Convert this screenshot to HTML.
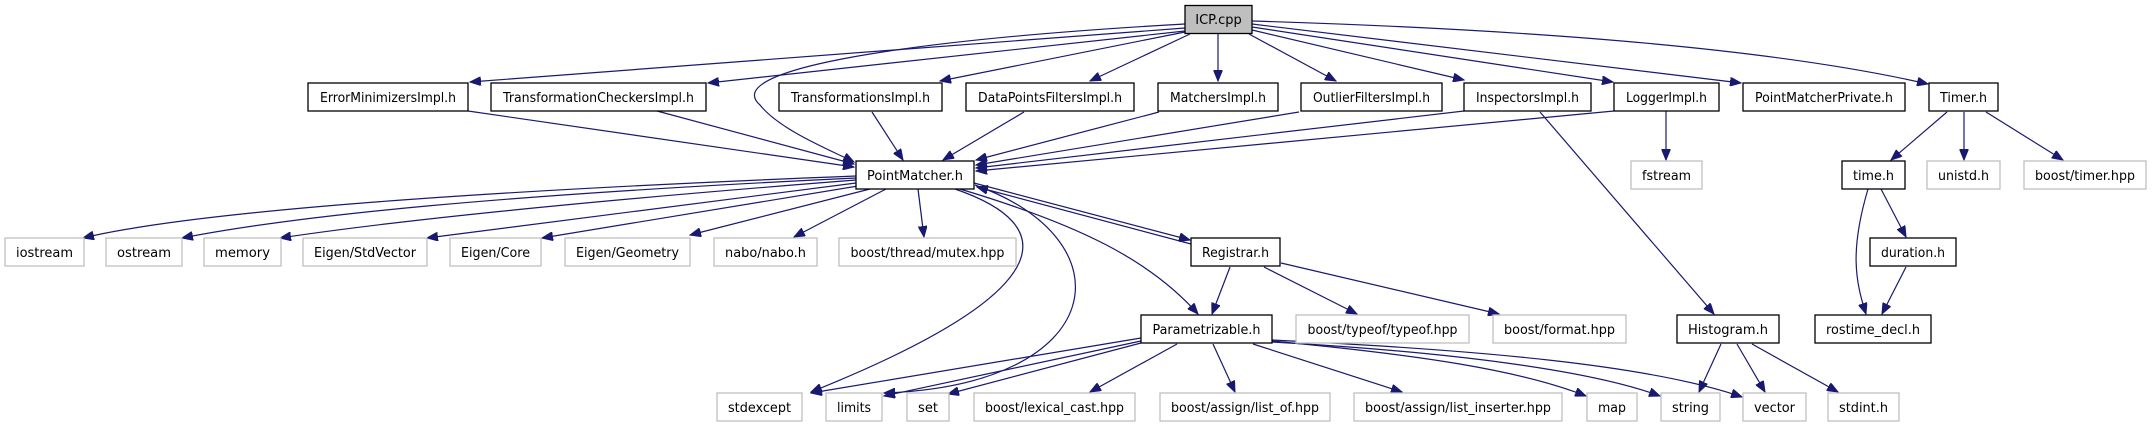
<!DOCTYPE html>
<html><head><meta charset="utf-8"><style>
html,body{margin:0;padding:0;background:#fff;}
svg{display:block;}
text{font-family:"DejaVu Sans","Liberation Sans",sans-serif;font-size:13px;fill:#000;}
.b rect{fill:#fff;stroke:#000;stroke-width:1.3;}
.g rect{fill:#fff;stroke:#bfbfbf;stroke-width:1.3;}
.e path{fill:none;stroke:#191970;stroke-width:1.2;marker-end:url(#a);}
</style></head><body>
<svg width="2152" height="427" viewBox="0 0 2152 427" xmlns="http://www.w3.org/2000/svg">
<defs><marker id="a" markerUnits="userSpaceOnUse" markerWidth="12" markerHeight="9" refX="11" refY="4.5" orient="auto"><path d="M0,0 L11,4.5 L0,9 z" fill="#191970" stroke="#191970"/></marker></defs>
<g class="e">
<path d="M1185,28 L470,82"/>
<path d="M1185,31 L708,83"/>
<path d="M1185,24 C900,40 720,70 760,105 C780,130 830,150 854,162"/>
<path d="M1185,32 L940,81"/>
<path d="M1190,34 L1090,81"/>
<path d="M1218,34 L1218,81"/>
<path d="M1249,34 L1336,81"/>
<path d="M1252,30 L1464,80"/>
<path d="M1252,27 L1613,82"/>
<path d="M1252,24 L1741,83"/>
<path d="M1252,21 C1550,30 1780,50 1928,84"/>
<path d="M468,111 L854,167"/>
<path d="M657,111 L854,164"/>
<path d="M872,112 L903,160"/>
<path d="M1024,112 L943,160"/>
<path d="M1159,112 L976,160"/>
<path d="M1299,112 L976,165"/>
<path d="M1464,111 L976,168"/>
<path d="M1614,111 L976,171"/>
<path d="M1666,111 L1666,160"/>
<path d="M1540,112 L1714,314"/>
<path d="M1947,112 L1891,160"/>
<path d="M1964,112 L1964,160"/>
<path d="M1986,112 L2063,160"/>
<path d="M1881,189 L1906,237"/>
<path d="M1868,189 C1850,250 1855,280 1866,314"/>
<path d="M1906,267 L1882,314"/>
<path d="M1721,344 L1699,392"/>
<path d="M1737,344 L1765,392"/>
<path d="M1752,344 L1838,392"/>
<path d="M856,176 C500,190 200,210 83,238"/>
<path d="M856,178 C500,195 300,215 182,238"/>
<path d="M856,180 C600,200 400,220 280,238"/>
<path d="M856,183 L427,238"/>
<path d="M858,186 L542,238"/>
<path d="M870,189 L690,235"/>
<path d="M886,189 L794,237"/>
<path d="M918,189 L924,237"/>
<path d="M974,183 L1190,240"/>
<path d="M1191,244 L977,187"/>
<path d="M960,189 C1080,225 1150,260 1198,314"/>
<path d="M955,189 C1060,225 1065,290 811,392"/>
<path d="M975,185 C1130,240 1110,385 884,393"/>
<path d="M1230,267 L1212,314"/>
<path d="M1264,267 L1357,314"/>
<path d="M1281,263 L1499,314"/>
<path d="M1141,338 L811,393"/>
<path d="M1141,341 L884,396"/>
<path d="M1141,343 L948,394"/>
<path d="M1177,344 L1090,392"/>
<path d="M1213,344 L1235,392"/>
<path d="M1253,344 L1402,392"/>
<path d="M1272,341 C1420,355 1520,370 1586,396"/>
<path d="M1272,342 C1450,352 1590,370 1660,396"/>
<path d="M1272,340 C1480,350 1650,365 1742,397"/>
</g>
<g class="b"><rect x="1185" y="5.5" width="67" height="28" style="fill:#bfbfbf"/><text x="1218.5" y="24" text-anchor="middle">ICP.cpp</text></g>
<g class="b"><rect x="308" y="83" width="160" height="28"/><text x="388" y="102" text-anchor="middle" textLength="136" lengthAdjust="spacingAndGlyphs">ErrorMinimizersImpl.h</text></g>
<g class="b"><rect x="491" y="83" width="215" height="28"/><text x="598.5" y="102" text-anchor="middle" textLength="191" lengthAdjust="spacingAndGlyphs">TransformationCheckersImpl.h</text></g>
<g class="b"><rect x="779" y="83" width="163" height="28"/><text x="860.5" y="102" text-anchor="middle" textLength="139" lengthAdjust="spacingAndGlyphs">TransformationsImpl.h</text></g>
<g class="b"><rect x="966" y="83" width="168" height="28"/><text x="1050" y="102" text-anchor="middle" textLength="144" lengthAdjust="spacingAndGlyphs">DataPointsFiltersImpl.h</text></g>
<g class="b"><rect x="1158" y="83" width="120" height="28"/><text x="1218" y="102" text-anchor="middle" textLength="96" lengthAdjust="spacingAndGlyphs">MatchersImpl.h</text></g>
<g class="b"><rect x="1301" y="83" width="141" height="28"/><text x="1371.5" y="102" text-anchor="middle" textLength="117" lengthAdjust="spacingAndGlyphs">OutlierFiltersImpl.h</text></g>
<g class="b"><rect x="1464" y="83" width="127" height="28"/><text x="1527.5" y="102" text-anchor="middle" textLength="103" lengthAdjust="spacingAndGlyphs">InspectorsImpl.h</text></g>
<g class="b"><rect x="1614" y="83" width="105" height="28"/><text x="1666.5" y="102" text-anchor="middle" textLength="81" lengthAdjust="spacingAndGlyphs">LoggerImpl.h</text></g>
<g class="b"><rect x="1743" y="83" width="162" height="28"/><text x="1824" y="102" text-anchor="middle" textLength="138" lengthAdjust="spacingAndGlyphs">PointMatcherPrivate.h</text></g>
<g class="b"><rect x="1929" y="83" width="69" height="28"/><text x="1963.5" y="102" text-anchor="middle" textLength="47" lengthAdjust="spacingAndGlyphs">Timer.h</text></g>
<g class="b"><rect x="856" y="161" width="118" height="28"/><text x="915" y="180" text-anchor="middle" textLength="96" lengthAdjust="spacingAndGlyphs">PointMatcher.h</text></g>
<g class="g"><rect x="1631" y="161" width="71" height="28"/><text x="1666.5" y="180" text-anchor="middle" textLength="49" lengthAdjust="spacingAndGlyphs">fstream</text></g>
<g class="b"><rect x="1842" y="161" width="63" height="28"/><text x="1873.5" y="180" text-anchor="middle" textLength="41" lengthAdjust="spacingAndGlyphs">time.h</text></g>
<g class="g"><rect x="1927" y="161" width="73" height="28"/><text x="1963.5" y="180" text-anchor="middle" textLength="51" lengthAdjust="spacingAndGlyphs">unistd.h</text></g>
<g class="g"><rect x="2024" y="161" width="122" height="28"/><text x="2085" y="180" text-anchor="middle" textLength="100" lengthAdjust="spacingAndGlyphs">boost/timer.hpp</text></g>
<g class="g"><rect x="5" y="238" width="79" height="28"/><text x="44.5" y="257" text-anchor="middle" textLength="57" lengthAdjust="spacingAndGlyphs">iostream</text></g>
<g class="g"><rect x="106" y="238" width="76" height="28"/><text x="144" y="257" text-anchor="middle" textLength="54" lengthAdjust="spacingAndGlyphs">ostream</text></g>
<g class="g"><rect x="204" y="238" width="77" height="28"/><text x="242.5" y="257" text-anchor="middle" textLength="55" lengthAdjust="spacingAndGlyphs">memory</text></g>
<g class="g"><rect x="303" y="238" width="124" height="28"/><text x="365" y="257" text-anchor="middle" textLength="102" lengthAdjust="spacingAndGlyphs">Eigen/StdVector</text></g>
<g class="g"><rect x="450" y="238" width="91" height="28"/><text x="495.5" y="257" text-anchor="middle" textLength="69" lengthAdjust="spacingAndGlyphs">Eigen/Core</text></g>
<g class="g"><rect x="565" y="238" width="125" height="28"/><text x="627.5" y="257" text-anchor="middle" textLength="103" lengthAdjust="spacingAndGlyphs">Eigen/Geometry</text></g>
<g class="g"><rect x="714" y="238" width="103" height="28"/><text x="765.5" y="257" text-anchor="middle" textLength="81" lengthAdjust="spacingAndGlyphs">nabo/nabo.h</text></g>
<g class="g"><rect x="839" y="238" width="177" height="28"/><text x="927.5" y="257" text-anchor="middle" textLength="154" lengthAdjust="spacingAndGlyphs">boost/thread/mutex.hpp</text></g>
<g class="b"><rect x="1191" y="238" width="89" height="28"/><text x="1235.5" y="257" text-anchor="middle" textLength="67" lengthAdjust="spacingAndGlyphs">Registrar.h</text></g>
<g class="b"><rect x="1870" y="238" width="86" height="28"/><text x="1913" y="257" text-anchor="middle" textLength="64" lengthAdjust="spacingAndGlyphs">duration.h</text></g>
<g class="b"><rect x="1141" y="315" width="131" height="28"/><text x="1206.5" y="334" text-anchor="middle" textLength="108" lengthAdjust="spacingAndGlyphs">Parametrizable.h</text></g>
<g class="g"><rect x="1296" y="315" width="173" height="28"/><text x="1382.5" y="334" text-anchor="middle" textLength="150" lengthAdjust="spacingAndGlyphs">boost/typeof/typeof.hpp</text></g>
<g class="g"><rect x="1493" y="315" width="133" height="28"/><text x="1559.5" y="334" text-anchor="middle" textLength="111" lengthAdjust="spacingAndGlyphs">boost/format.hpp</text></g>
<g class="b"><rect x="1677" y="315" width="102" height="28"/><text x="1728" y="334" text-anchor="middle" textLength="80" lengthAdjust="spacingAndGlyphs">Histogram.h</text></g>
<g class="b"><rect x="1815" y="315" width="116" height="28"/><text x="1873" y="334" text-anchor="middle" textLength="94" lengthAdjust="spacingAndGlyphs">rostime_decl.h</text></g>
<g class="g"><rect x="717" y="393" width="85" height="28"/><text x="759.5" y="412" text-anchor="middle" textLength="63" lengthAdjust="spacingAndGlyphs">stdexcept</text></g>
<g class="g"><rect x="826" y="393" width="56" height="28"/><text x="854" y="412" text-anchor="middle" textLength="34" lengthAdjust="spacingAndGlyphs">limits</text></g>
<g class="g"><rect x="907" y="393" width="42" height="28"/><text x="928" y="412" text-anchor="middle" textLength="20" lengthAdjust="spacingAndGlyphs">set</text></g>
<g class="g"><rect x="974" y="393" width="161" height="28"/><text x="1054.5" y="412" text-anchor="middle" textLength="139" lengthAdjust="spacingAndGlyphs">boost/lexical_cast.hpp</text></g>
<g class="g"><rect x="1160" y="393" width="170" height="28"/><text x="1245" y="412" text-anchor="middle" textLength="148" lengthAdjust="spacingAndGlyphs">boost/assign/list_of.hpp</text></g>
<g class="g"><rect x="1354" y="393" width="208" height="28"/><text x="1458" y="412" text-anchor="middle" textLength="186" lengthAdjust="spacingAndGlyphs">boost/assign/list_inserter.hpp</text></g>
<g class="g"><rect x="1587" y="393" width="50" height="28"/><text x="1612" y="412" text-anchor="middle" textLength="28" lengthAdjust="spacingAndGlyphs">map</text></g>
<g class="g"><rect x="1661" y="393" width="59" height="28"/><text x="1690.5" y="412" text-anchor="middle" textLength="37" lengthAdjust="spacingAndGlyphs">string</text></g>
<g class="g"><rect x="1743" y="393" width="63" height="28"/><text x="1774.5" y="412" text-anchor="middle" textLength="41" lengthAdjust="spacingAndGlyphs">vector</text></g>
<g class="g"><rect x="1828" y="393" width="71" height="28"/><text x="1863.5" y="412" text-anchor="middle" textLength="49" lengthAdjust="spacingAndGlyphs">stdint.h</text></g>
</svg>
</body></html>
